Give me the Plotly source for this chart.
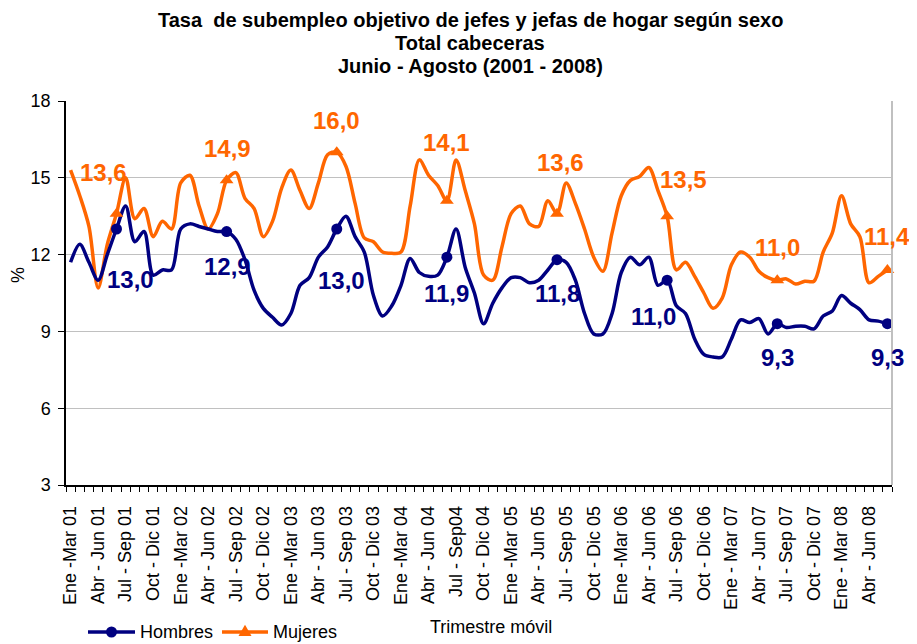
import plotly.graph_objects as go

# Monthly moving quarters: Ene-Mar 01 ... Jun-Ago 08 (90 periods)
hombres = [11.7, 12.4, 11.7, 11.0, 12.0, 13.0, 13.9, 12.5, 12.9, 11.2,
           11.4, 11.4, 13.0, 13.2, 13.1, 13.0, 12.9, 12.9, 12.6, 11.8,
           10.6, 9.9, 9.55, 9.25, 9.7, 10.8, 11.1, 11.9, 12.3, 13.0,
           13.5, 12.7, 12.1, 10.4, 9.6, 10.0, 10.8, 11.85, 11.3, 11.15,
           11.2, 11.9, 13.0, 11.5, 10.5, 9.3, 10.1, 10.7, 11.1, 11.1,
           10.9, 11.0, 11.4, 11.8, 11.7, 11.0, 9.7, 8.9, 8.9, 9.7,
           11.3, 11.9, 11.6, 11.9, 10.8, 11.0, 10.0, 9.7, 8.7, 8.1,
           8.0, 8.0, 8.7, 9.45, 9.35, 9.5, 8.9, 9.3, 9.15, 9.2,
           9.2, 9.1, 9.6, 9.8, 10.4, 10.1, 9.85, 9.45, 9.4, 9.3]

mujeres = [15.3, 14.3, 13.1, 10.7, 12.4, 13.6, 15.0, 13.4, 13.8, 12.7,
           13.3, 13.0, 14.8, 15.1, 13.9, 13.0, 13.6, 14.9, 15.2, 14.2,
           13.8, 12.7, 13.3, 14.6, 15.3, 14.5, 13.8, 14.8, 15.9, 16.0,
           15.45, 14.0, 12.65, 12.5, 12.1, 12.05, 12.1, 13.9, 15.7, 15.1,
           14.7, 14.1, 15.7, 14.5, 13.2, 11.2, 11.0, 12.3, 13.6, 13.9,
           13.2, 13.1, 14.1, 13.6, 14.8, 14.0, 13.0, 11.9, 11.35, 12.85,
           14.3, 14.9, 15.05, 15.4, 14.5, 13.5, 11.4, 11.7, 11.15, 10.5,
           9.9, 10.3, 11.6, 12.1, 11.9, 11.35, 11.1, 11.0, 11.05, 10.85,
           10.96, 10.96, 12.1, 12.85, 14.3, 13.2, 12.7, 10.9, 11.15, 11.4]

tick_labels = ["Ene -Mar 01", "Abr - Jun 01", "Jul - Sep 01", "Oct - Dic 01",
               "Ene -Mar 02", "Abr - Jun 02", "Jul - Sep 02", "Oct - Dic 02",
               "Ene -Mar 03", "Abr - Jun 03", "Jul - Sep 03", "Oct - Dic 03",
               "Ene -Mar 04", "Abr - Jun 04", "Jul - Sep04", "Oct - Dic 04",
               "Ene -Mar 05", "Abr - Jun 05", "Jul - Sep 05", "Oct - Dic 05",
               "Ene -Mar 06", "Abr - Jun 06", "Jul - Sep 06", "Oct - Dic 06",
               "Ene - Mar 07", "Abr - Jun 07", "Jul - Sep 07", "Oct - Dic 07",
               "Ene - Mar 08", "Abr - Jun 08"]

title_lines = ["Tasa  de subempleo objetivo de jefes y jefas de hogar según sexo",
               "Total cabeceras",
               "Junio - Agosto (2001 - 2008)"]

series_names = ["Hombres", "Mujeres"]

# Jun-Ago period of each year (highlighted points)
jun_ago_idx = [5, 17, 29, 41, 53, 65, 77, 89]

# label offsets (pixels) for the highlighted values
h_shift = [(14, -50), (1, -35), (5, -51), (0, -36), (0, -34), (-14, -36), (0, -34), (0, -34)]
m_shift = [(-13, 41), (1, 32), (0, 32), (0, 58), (3, 51), (16, 37), (0, 33), (0, 33)]

NAVY = "#000080"
ORANGE = "#FF6600"
FONT = "Liberation Sans, Arial, sans-serif"

# the page places the figure 8px from the top-left corner (body margin)
OFF = 8
W, H = 917 - OFF, 644 - OFF
L, R, T, B = 66 - OFF, 25, 101 - OFF, 159
PLOT_L, PLOT_B = 66, 485          # page pixels of the plot area's left / bottom
PW, PH = 826, 384


def px(xp):
    return (xp - PLOT_L) / PW


def py(yp):
    return (PLOT_B - yp) / PH


x = list(range(len(hombres)))
tick_pos = x[::3][:len(tick_labels)]

fig = go.Figure()
fig.add_trace(go.Scatter(x=x, y=mujeres, mode="lines", name=series_names[1],
                         line=dict(color=ORANGE, width=3.5, shape="spline", smoothing=0.9),
                         showlegend=False, hoverinfo="skip"))
fig.add_trace(go.Scatter(x=x, y=hombres, mode="lines", name=series_names[0],
                         line=dict(color=NAVY, width=3.5, shape="spline", smoothing=0.9),
                         showlegend=False, hoverinfo="skip"))
fig.add_trace(go.Scatter(x=jun_ago_idx, y=[hombres[i] for i in jun_ago_idx], mode="markers",
                         marker=dict(color=NAVY, size=11, symbol="circle"),
                         showlegend=False, cliponaxis=False))
fig.add_trace(go.Scatter(x=jun_ago_idx, y=[mujeres[i] for i in jun_ago_idx], mode="markers",
                         marker=dict(color=ORANGE, size=12, symbol="triangle-up"),
                         showlegend=False, cliponaxis=False))

annotations = []
for k, i in enumerate(jun_ago_idx):
    annotations.append(dict(x=i, y=hombres[i], xref="x", yref="y",
                            text=f"{hombres[i]:.1f}".replace(".", ","), showarrow=False,
                            xshift=h_shift[k][0], yshift=h_shift[k][1],
                            font=dict(family=FONT, size=24, color=NAVY, weight="bold")))
    annotations.append(dict(x=i, y=mujeres[i], xref="x", yref="y",
                            text=f"{mujeres[i]:.1f}".replace(".", ","), showarrow=False,
                            xshift=m_shift[k][0], yshift=m_shift[k][1],
                            font=dict(family=FONT, size=24, color=ORANGE, weight="bold")))

# title (three centred lines)
for line, yc in zip(title_lines, [20, 43, 66]):
    annotations.append(dict(text=f"<b>{line}</b>", x=px(470), y=py(yc), xref="paper", yref="paper",
                            showarrow=False, xanchor="center", yanchor="middle", borderpad=0,
                            font=dict(family=FONT, size=20, color="black")))

annotations.append(dict(text="Trimestre móvil", x=px(491), y=py(627), xref="paper", yref="paper",
                        showarrow=False, xanchor="center", yanchor="middle",
                        font=dict(family=FONT, size=18, color="black")))
annotations.append(dict(text="%", x=px(18), y=py(275), xref="paper", yref="paper",
                        showarrow=False, textangle=-90, xanchor="center", yanchor="middle",
                        font=dict(family=FONT, size=18, color="black")))

# manual legend
leg_y = 632
shapes = [dict(type="line", xref="paper", yref="paper", x0=1, x1=1, y0=0, y1=1,
               line=dict(color="#c0c0c0", width=2))]
for name, color, x0, x1, tx, sym in [(series_names[0], NAVY, 88, 135, 138, "circle"),
                                      (series_names[1], ORANGE, 222, 268, 271, "triangle")]:
    shapes.append(dict(type="line", xref="paper", yref="paper", x0=px(x0), x1=px(x1),
                       y0=py(leg_y), y1=py(leg_y), line=dict(color=color, width=3.5)))
    cx = (x0 + x1) / 2
    if sym == "circle":
        r = 5.5
        shapes.append(dict(type="circle", xref="paper", yref="paper",
                           x0=px(cx - r), x1=px(cx + r), y0=py(leg_y + r), y1=py(leg_y - r),
                           fillcolor=color, line=dict(color=color, width=0)))
    else:
        s = 6.5
        path = (f"M {px(cx - s)} {py(leg_y + s * 0.6)} L {px(cx + s)} {py(leg_y + s * 0.6)} "
                f"L {px(cx)} {py(leg_y - s * 1.1)} Z")
        shapes.append(dict(type="path", xref="paper", yref="paper", path=path,
                           fillcolor=color, line=dict(color=color, width=0)))
    annotations.append(dict(text=name, x=px(tx), y=py(leg_y), xref="paper", yref="paper",
                            showarrow=False, xanchor="left", yanchor="middle",
                            font=dict(family=FONT, size=18, color="black")))

fig.update_layout(
    width=W, height=H,
    margin=dict(l=L, r=R, t=T, b=B),
    paper_bgcolor="white", plot_bgcolor="white",
    font=dict(family=FONT, size=18, color="black"),
    showlegend=False,
    xaxis=dict(range=[-0.5, len(x) - 0.5], tickmode="array", tickvals=tick_pos,
               ticktext=tick_labels, tickangle=-90, ticks="", showgrid=False,
               showline=True, linecolor="black", linewidth=1.5, zeroline=False,
               automargin=False, ticklabelstandoff=12,
               tickfont=dict(family=FONT, size=18, color="black"),
               minor=dict(ticks="outside", tickmode="linear", tick0=-0.5, dtick=1,
                          ticklen=5, tickcolor="black", tickwidth=1, showgrid=False)),
    yaxis=dict(range=[3, 18], tickmode="linear", tick0=3, dtick=3, ticks="outside",
               ticklen=6, tickcolor="black", showline=True, linecolor="black", linewidth=1.5,
               showgrid=True, gridcolor="#c0c0c0", gridwidth=1, zeroline=False,
               automargin=False, ticklabelstandoff=4,
               tickfont=dict(family=FONT, size=18, color="black")),
    annotations=annotations,
    shapes=shapes,
)

fig.write_html("out.html")
